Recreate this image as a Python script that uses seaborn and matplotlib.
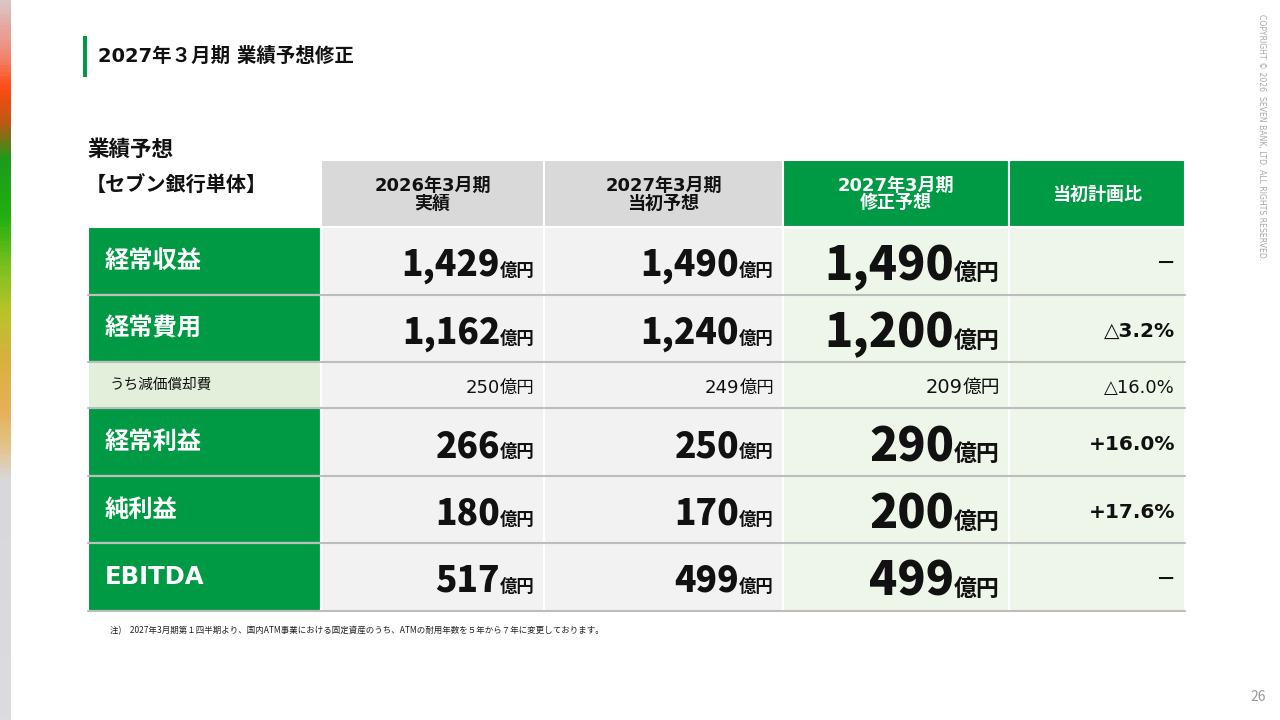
import numpy as np
import matplotlib
matplotlib.use("Agg")
import matplotlib.pyplot as plt
import seaborn as sns
from matplotlib.patches import Rectangle
from matplotlib.colors import LinearSegmentedColormap

# data
row_labels = ["経常収益", "経常費用", "うち減価償却費", "経常利益", "純利益", "EBITDA"]
col_headers = ["2026年3月期\n実績", "2027年3月期\n当初予想", "2027年3月期\n修正予想", "当初計画比"]
actual_fy26 = [1429, 1162, 250, 266, 180, 517]
initial_fy27 = [1490, 1240, 249, 250, 170, 499]
revised_fy27 = [1490, 1200, 209, 290, 200, 499]
vs_plan = [None, -3.2, -16.0, 16.0, 17.6, None]
sub_rows = [False, False, True, False, False, False]

title = "2027年３月期 業績予想修正"
note = "注)　2027年3月期第１四半期より、国内ATM事業における固定資産のうち、ATMの耐用年数を５年から７年に変更しております。"

# layout (pixels)
col_edges = [88, 321, 544, 783, 1009, 1185]
row_edges = [160, 227, 295, 362, 408, 476, 543, 611]

GREEN = "#009944"
HEAD_GRAY = "#d9d9d9"
BODY_GRAY = "#f2f2f2"
BODY_GREEN = "#eef6ea"
SUB_LABEL = "#e2efda"
LINE_GRAY = "#bdbdbd"
INK = "#111111"

sns.set_theme(style="white")
plt.rcParams["font.family"] = ["Noto Sans CJK JP", "DejaVu Sans"]
LAT = ["DejaVu Sans", "Noto Sans CJK JP"]

fig = plt.figure(figsize=(12.8, 7.2), dpi=100)
ax = fig.add_axes([0, 0, 1, 1])
ax.set_xlim(0, 1280)
ax.set_ylim(720, 0)
ax.axis("off")
renderer = fig.canvas.get_renderer()

# left gradient strip
cmap = LinearSegmentedColormap.from_list("strip", [
    (0.0, "#dcc4c4"), (0.07, "#f08a78"), (0.12, "#ff4a12"), (0.17, "#b85a14"),
    (0.22, "#1c9c1c"), (0.30, "#22b010"), (0.37, "#7cc020"), (0.43, "#b8c428"),
    (0.50, "#d8b040"), (0.57, "#e6b058"), (0.62, "#e2c488"), (0.67, "#d8d8dc"),
    (1.0, "#dcdce0")])
ax.imshow(np.linspace(0, 1, 200).reshape(-1, 1), cmap=cmap, aspect="auto",
          extent=[0, 11, 720, 0], zorder=0)

# title
ax.add_patch(Rectangle((83, 36), 4, 41, color=GREEN, lw=0))
ax.text(98, 56, title, fontsize=14, fontweight="bold", va="center", color=INK, family=LAT)
ax.text(87, 149, "業績予想", fontsize=15.5, fontweight="bold", va="center", color=INK)
ax.text(86, 185, "【セブン銀行単体】", fontsize=14.5, fontweight="bold", va="center", color=INK)

# header cells
for j, head in enumerate(col_headers):
    x0, x1 = col_edges[j + 1], col_edges[j + 2]
    fc = HEAD_GRAY if j < 2 else GREEN
    tc = INK if j < 2 else "white"
    ax.add_patch(Rectangle((x0, row_edges[0]), x1 - x0, row_edges[1] - row_edges[0],
                           fc=fc, ec="white", lw=1.5))
    ax.text((x0 + x1) / 2, (row_edges[0] + row_edges[1]) / 2 + 1, head, ha="center",
            va="center", fontsize=13, fontweight="bold", color=tc, linespacing=1.0,
            family=LAT)


def right_text(x, y, main, suffix, main_size, suf_size, weight, fam=None):
    s = ax.text(x, y, suffix, ha="right", va="baseline", fontsize=suf_size,
                fontweight=weight, color=INK)
    w = s.get_window_extent(renderer=renderer).width
    ax.text(x - w, y, main, ha="right", va="baseline", fontsize=main_size,
            fontweight="heavy" if weight == "bold" else weight, color=INK, family=fam)


cols = [actual_fy26, initial_fy27, revised_fy27]
for i, label in enumerate(row_labels):
    y0, y1 = row_edges[i + 1], row_edges[i + 2]
    yc = (y0 + y1) / 2
    sub = sub_rows[i]
    # label cell
    ax.add_patch(Rectangle((col_edges[0], y0), col_edges[1] - col_edges[0], y1 - y0,
                           fc=SUB_LABEL if sub else GREEN, ec="white", lw=1.5))
    if sub:
        ax.text(col_edges[0] + 22, yc, label, va="center", fontsize=10.5, color=INK)
    else:
        ax.text(col_edges[0] + 17, yc, label, va="center", fontsize=17.5,
                fontweight="bold", color="white", family=LAT if label.isascii() else None)
    # body cells
    for j in range(4):
        x0, x1 = col_edges[j + 1], col_edges[j + 2]
        ax.add_patch(Rectangle((x0, y0), x1 - x0, y1 - y0,
                               fc=BODY_GRAY if j < 2 else BODY_GREEN, ec="white", lw=1.5))
    for j, vals in enumerate(cols):
        xr = col_edges[j + 2] - 9
        if sub:
            right_text(xr, yc + 8, f"{vals[i]:,}", "億円", 14 if j == 2 else 13,
                       13.5 if j == 2 else 12.5, "normal", LAT)
        elif j == 2:
            right_text(xr, yc + 19, f"{vals[i]:,}", "億円", 33.5, 16.5, "bold")
        else:
            right_text(xr, yc + 15, f"{vals[i]:,}", "億円", 25.5, 12.5, "bold")
    v = vs_plan[i]
    if v is None:
        txt = "－"
    elif v < 0:
        txt = f"△{abs(v):.1f}%"
    else:
        txt = f"+{v:.1f}%"
    ax.text(col_edges[5] - 10, yc + (8 if sub else 8.5), txt, ha="right", va="baseline",
            fontsize=13 if sub else 14.5, fontweight="normal" if sub else "bold",
            color=INK, family=LAT if v is not None else None)

# row separators
for y in row_edges[2:]:
    ax.plot([col_edges[0], col_edges[-1]], [y, y], color=LINE_GRAY, lw=1.5, zorder=3)

# note, copyright, page number
ax.text(110, 631, note, fontsize=6.1, va="center", color="#222222")
ax.text(1262, 14, "COPYRIGHT © 2026  SEVEN BANK, LTD. ALL RIGHTS RESERVED.", rotation=270,
        ha="center", va="top", fontsize=5.6, color="#a8a8a8", family=["DejaVu Sans"])
ax.text(1258, 697, "26", ha="center", va="center", fontsize=10, color="#9a9a9a")

fig.savefig("out.png", dpi=100)
